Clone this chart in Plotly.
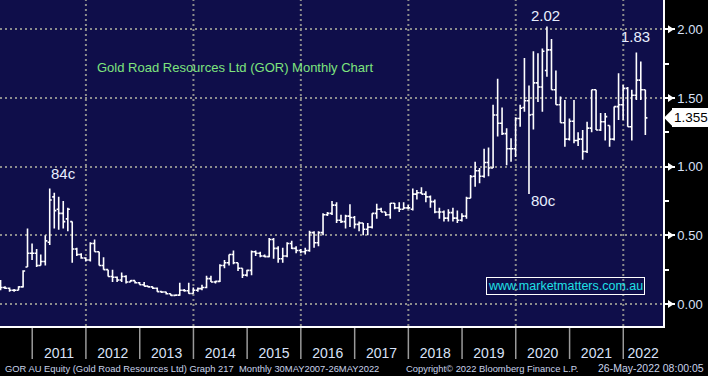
import pandas as pd
import plotly.graph_objects as go

# ---------------- data (monthly bars, May 2010 - May 2022) ----------------
months = pd.period_range("2010-05", "2022-05", freq="M")

opens = [
    .16, .12, .115, .10, .10, .125, .27, .37,                                  # 2010 May-Dec
    .37, .28, .31, .45, .78, .69, .66, .62, .60, .40, .36, .335,               # 2011
    .32, .44, .38, .28, .25, .20, .195, .175, .20, .16, .17, .155,             # 2012
    .14, .13, .125, .115, .09, .087, .075, .063, .065, .10, .097, .077,        # 2013
    .10, .112, .12, .185, .16, .165, .28, .30, .36, .30, .26, .21,             # 2014
    .245, .38, .37, .35, .345, .47, .405, .33, .35, .44, .405, .39,            # 2015
    .38, .39, .52, .446, .52, .65, .66, .72, .61, .60, .64, .63,               # 2016
    .58, .59, .544, .56, .66, .69, .67, .65, .733, .70, .69, .70,              # 2017
    .69, .80, .81, .80, .78, .745, .67, .67, .625, .665, .625, .61,            # 2018
    .64, .77, .93, .97, .93, 1.03, .99, 1.376, 1.316, 1.24, 1.13, 1.13,        # 2019
    1.35, 1.43, 1.48, 1.38, 1.61, 1.58, 1.70, 1.85, 1.56, 1.45, 1.32, 1.20,    # 2020
    1.33, 1.19, 1.20, 1.11, 1.28, 1.56, 1.267, 1.327, 1.30, 1.20, 1.437, 1.45, # 2021
    1.57, 1.29, 1.52, 1.63, 1.56,                                              # 2022 Jan-May
]
highs = [
    .175, .13, .12, .11, .13, .245, .55, .44,
    .40, .36, .50, .84, .81, .78, .75, .70, .60, .41, .37, .34,
    .45, .47, .38, .34, .25, .25, .20, .23, .21, .175, .17, .16,
    .16, .13, .125, .12, .09, .09, .075, .07, .155, .11, .155, .12,
    .12, .14, .206, .206, .17, .29, .32, .36, .39, .30, .26, .25,
    .39, .39, .38, .36, .48, .48, .42, .41, .45, .46, .42, .40,
    .41, .534, .53, .53, .66, .67, .75, .74, .65, .65, .726, .64,
    .60, .59, .59, .66, .73, .70, .67, .735, .735, .74, .74, .72,
    .84, .83, .85, .82, .79, .76, .70, .68, .69, .70, .68, .66,
    .78, .94, 1.036, .99, 1.13, 1.14, 1.45, 1.64, 1.43, 1.28, 1.206, 1.36,
    1.45, 1.79, 1.59, 1.84, 1.825, 1.86, 2.02, 1.93, 1.70, 1.51, 1.485, 1.35,
    1.485, 1.25, 1.267, 1.327, 1.56, 1.56, 1.39, 1.39, 1.30, 1.437, 1.68, 1.595,
    1.58, 1.56, 1.83, 1.765, 1.56,
]
lows = [
    .10, .11, .09, .09, .10, .12, .27, .32,
    .27, .28, .28, .43, .55, .54, .55, .53, .30, .35, .33, .31,
    .31, .38, .28, .25, .20, .16, .16, .16, .15, .16, .15, .14,
    .13, .12, .11, .09, .08, .07, .06, .06, .06, .09, .075, .075,
    .09, .10, .115, .16, .15, .16, .26, .28, .29, .24, .19, .20,
    .21, .35, .34, .34, .34, .33, .30, .30, .34, .40, .37, .37,
    .36, .38, .41, .42, .50, .64, .648, .59, .59, .55, .56, .55,
    .53, .50, .50, .55, .62, .67, .64, .62, .69, .67, .69, .69,
    .68, .76, .80, .74, .70, .66, .62, .60, .60, .60, .59, .60,
    .62, .77, .854, .88, .92, .93, .99, 1.22, 1.23, 1.01, 1.036, 1.07,
    1.29, 1.40, .80, 1.27, 1.47, 1.40, 1.655, 1.56, 1.45, 1.32, 1.145, 1.19,
    1.17, 1.15, 1.05, 1.10, 1.25, 1.267, 1.26, 1.19, 1.145, 1.19, 1.34, 1.34,
    1.29, 1.19, 1.485, 1.485, 1.23,
]
closes = [
    .12, .115, .10, .10, .125, .24, .37, .37,
    .28, .31, .46, .757, .68, .66, .60, .69, .40, .36, .335, .32,
    .44, .38, .28, .25, .20, .195, .175, .20, .16, .17, .155, .14,
    .13, .125, .115, .09, .087, .075, .063, .065, .10, .097, .077, .10,
    .112, .12, .185, .16, .165, .28, .30, .36, .30, .26, .21, .245,
    .38, .37, .35, .345, .47, .405, .33, .35, .44, .405, .39, .38,
    .39, .52, .446, .52, .65, .66, .72, .61, .60, .64, .63, .58,
    .59, .544, .56, .66, .69, .67, .65, .733, .70, .69, .70, .70,
    .80, .81, .80, .78, .745, .67, .67, .625, .665, .625, .61, .64,
    .77, .927, .97, .93, 1.03, .99, 1.376, 1.316, 1.24, 1.13, 1.13, 1.35,
    1.425, 1.48, 1.376, 1.61, 1.58, 1.84, 1.85, 1.56, 1.45, 1.32, 1.20, 1.33,
    1.19, 1.20, 1.11, 1.28, 1.56, 1.267, 1.327, 1.364, 1.20, 1.437, 1.45, 1.57,
    1.29, 1.52, 1.63, 1.56, 1.355,
]

y_ticks = [0.0, 0.5, 1.0, 1.5, 2.0]
y_ticktext = ["0.00", "0.50", "1.00", "1.50", "2.00"]
years = list(range(2011, 2023))
grid_years = [2012, 2014, 2016, 2018, 2020, 2022]
last_price = 1.355
last_price_text = "1.355"

title_text = "Gold Road Resources Ltd (GOR) Monthly Chart"
watermark_text = "www.marketmatters.com.au"
footer_left = "GOR AU Equity (Gold Road Resources Ltd) Graph 217  Monthly 30MAY2007-26MAY2022"
footer_mid = "Copyright\u00a9 2022 Bloomberg Finance L.P."
footer_right = "26-May-2022 08:00:05"

# ---------------- figure ----------------
dates = [p.end_time.normalize() for p in months]
x_start = pd.Timestamp("2010-05-27")
x_end = pd.Timestamp("2022-09-28")
y_range = [-0.160, 2.213]

W, H = 708, 376
ML, MR, MT, MB = 0, 45, 0, 50
plot_w = W - ML - MR
plot_h = H - MT - MB
px_x = 1.0 / plot_w                       # paper units per pixel (x)
px_y = (y_range[1] - y_range[0]) / plot_h  # data units per pixel (y)

BG = "#0f0e4a"
GRID = "#8c8c8c"
LABEL = "#d8e2f8"
SANS = "Liberation Sans, Arial, sans-serif"

fig = go.Figure()
fig.add_trace(go.Ohlc(
    x=dates, open=opens, high=highs, low=lows, close=closes,
    increasing=dict(line=dict(color="white", width=1.6)),
    decreasing=dict(line=dict(color="white", width=1.6)),
    tickwidth=0.5, hoverinfo="skip", showlegend=False,
))

# year label positions: centre of each visible year span
tickvals, ticktext = [], []
for yr in years:
    a = max(pd.Timestamp(f"{yr}-01-01"), x_start)
    b = min(pd.Timestamp(f"{yr + 1}-01-01"), x_end)
    tickvals.append(a + (b - a) / 2)
    ticktext.append(str(yr))

shapes = []
# dotted vertical gridlines every other year
for yr in grid_years:
    shapes.append(dict(type="line", xref="x", yref="paper",
                       x0=f"{yr}-01-01", x1=f"{yr}-01-01", y0=0, y1=1,
                       line=dict(color=GRID, width=2, dash="2px,3px"), layer="below"))
# year separators in the bottom band
for yr in years:
    shapes.append(dict(type="line", xref="x", yref="paper",
                       x0=f"{yr}-01-01", x1=f"{yr}-01-01",
                       y0=-2 / plot_h, y1=-33 / plot_h,
                       line=dict(color="#9a9a9a", width=1.5)))
# right-axis tick arrows
for v in y_ticks:
    x0 = 1 + 5 * px_x
    x1 = 1 + 11 * px_x
    d = 4 * px_y
    shapes.append(dict(type="path", xref="paper", yref="y",
                       path=f"M {x0},{v + d} L {x1},{v} L {x0},{v - d} Z",
                       fillcolor="white", line=dict(color="white", width=0)))
# last price pointer
lp0 = 1 + 1 * px_x
lp1 = 1 + 10 * px_x
dd = 9 * px_y
shapes.append(dict(type="path", xref="paper", yref="y",
                   path=f"M {lp0},{last_price} L {lp1},{last_price + dd} L {lp1},{last_price - dd} Z",
                   fillcolor="white", line=dict(color="white", width=0)))

annotations = []
annotations.append(dict(text=title_text, xref="paper", yref="paper",
                        x=95 * px_x, y=(plot_h - 67) / plot_h, xanchor="left", yanchor="middle",
                        showarrow=False, font=dict(family=SANS, size=13, color="#7ee47e")))
annotations.append(dict(text=watermark_text, xref="paper", yref="paper",
                        x=565 * px_x, y=(plot_h - 286) / plot_h, xanchor="center", yanchor="middle",
                        showarrow=False, font=dict(family=SANS, size=12.5, color="#1fe0e6"),
                        bordercolor="white", borderwidth=1, borderpad=1))
annotations.append(dict(text=last_price_text, xref="paper", yref="y",
                        x=1, y=last_price, xanchor="left", yanchor="middle", xshift=9,
                        showarrow=False, bgcolor="white", bordercolor="white", borderpad=1,
                        font=dict(family=SANS, size=13.5, color="black")))

# price call-outs
i_2011 = max(range(0, 24), key=lambda i: highs[i])
i_top = max(range(len(highs)), key=lambda i: highs[i])
i_2022 = max(range(len(highs) - 6, len(highs)), key=lambda i: highs[i])
i_low = min(range(112, 130), key=lambda i: lows[i])
callout_font = dict(family=SANS, size=15, color="#e8eeff")
annotations += [
    dict(text="84c", x=dates[i_2011], y=highs[i_2011], xref="x", yref="y",
         yanchor="bottom", xshift=14, yshift=5, showarrow=False, font=callout_font),
    dict(text="2.02", x=dates[i_top], y=highs[i_top], xref="x", yref="y",
         yanchor="bottom", xshift=-1, yshift=1, showarrow=False, font=callout_font),
    dict(text="1.83", x=dates[i_2022], y=highs[i_2022], xref="x", yref="y",
         yanchor="bottom", xshift=-1, yshift=6, showarrow=False, font=callout_font),
    dict(text="80c", x=dates[i_low], y=lows[i_low], xref="x", yref="y",
         yanchor="top", xshift=15, yshift=4, showarrow=False, font=callout_font),
]

# footer
foot_y = (plot_h - 368) / plot_h
foot_font = dict(family=SANS, size=9.4, color="#c9d3ea")
annotations += [
    dict(text=footer_left, xref="paper", yref="paper", x=3 * px_x, y=foot_y,
         xanchor="left", yanchor="middle", showarrow=False, font=foot_font),
    dict(text=footer_mid, xref="paper", yref="paper", x=404 * px_x, y=foot_y,
         xanchor="left", yanchor="middle", showarrow=False, font=foot_font),
    dict(text=footer_right, xref="paper", yref="paper", x=706 * px_x, y=foot_y,
         xanchor="right", yanchor="middle", showarrow=False,
         font=dict(family=SANS, size=10.5, color="#c9d3ea")),
]

fig.update_layout(
    width=W, height=H,
    margin=dict(l=ML, r=MR, t=MT, b=MB, pad=0, autoexpand=False),
    paper_bgcolor="black", plot_bgcolor=BG,
    showlegend=False,
    shapes=shapes, annotations=annotations,
    xaxis=dict(
        type="date", range=[x_start, x_end], automargin=False,
        rangeslider=dict(visible=False),
        showgrid=False, zeroline=False,
        showline=True, linecolor="white", linewidth=1.5,
        tickmode="array", tickvals=tickvals, ticktext=ticktext,
        ticks="outside", ticklen=13, tickcolor="rgba(0,0,0,0)",
        tickfont=dict(family=SANS, size=14, color=LABEL),
        fixedrange=True,
    ),
    yaxis=dict(
        side="right", range=y_range, automargin=False,
        tickmode="array", tickvals=y_ticks, ticktext=y_ticktext,
        showgrid=True, gridcolor=GRID, gridwidth=2, griddash="2px,3px",
        zeroline=False,
        showline=True, linecolor="white", linewidth=1.5,
        ticks="outside", ticklen=10, tickwidth=1.5, tickcolor="white",
        minor=dict(ticks="outside", ticklen=4, tickwidth=1.5, tickcolor="white",
                   tickmode="linear", tick0=0, dtick=0.25, showgrid=False),
        tickfont=dict(family=SANS, size=13, color=LABEL),
        fixedrange=True,
    ),
)

fig.write_html("out.html", config={"displayModeBar": False},
               post_script="document.body.style.margin='0px';")
